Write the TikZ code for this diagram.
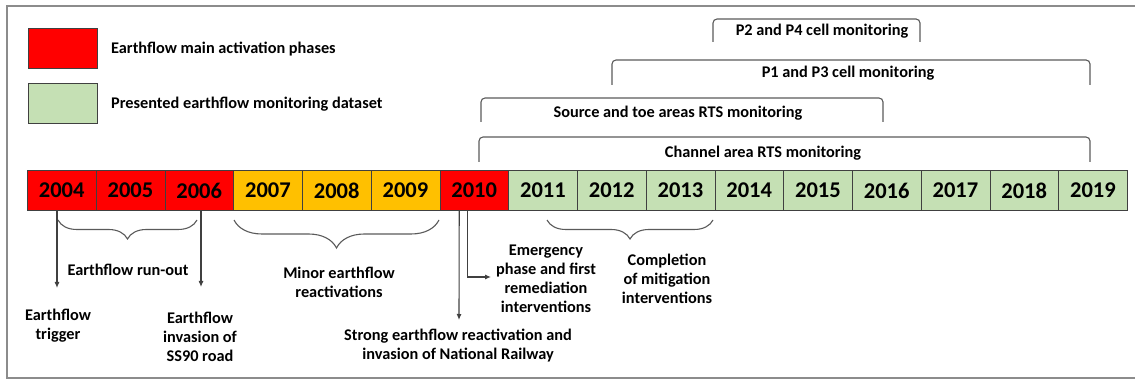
\documentclass[tikz,border=0pt]{standalone}
\usepackage{fontspec}
\setmainfont{Carlito}
\usetikzlibrary{arrows.meta,positioning,decorations.pathreplacing}
\definecolor{actred}{HTML}{FF0000}
\definecolor{minororange}{HTML}{FFC000}
\definecolor{monigreen}{HTML}{C5E0B4}
\definecolor{framegray}{HTML}{8C8C8C}
\definecolor{linegray}{HTML}{5A5A5A}
\definecolor{cellline}{HTML}{404040}

\begin{document}
\begin{tikzpicture}[x=1pt,y=-1pt,font=\bfseries\fontsize{16.3}{19}\selectfont,
  yearcell/.style={draw=cellline,line width=0.7pt,minimum width=68.75pt,minimum height=40pt,
        inner sep=0pt,anchor=west,font=\bfseries\fontsize{22.5}{24}\selectfont},
  legbox/.style={draw=cellline,line width=0.8pt,minimum width=69pt,minimum height=40pt,inner sep=0pt},
  notetext/.style={align=center,inner sep=1pt},
  bracketline/.style={linegray,line width=1.1pt,rounded corners=4pt},
  curly/.style={linegray,line width=1.1pt,decorate,decoration={brace,mirror,amplitude=#1}},
  pointer/.style={-{Latex[length=6pt,width=5pt]},cellline,line width=1.1pt}]
  \useasboundingbox (0,0) rectangle (1135,379);
  \draw[framegray,line width=1.8pt] (1140,6) -- (7,6) -- (7,378) -- (1140,378);

  % legend
  \node[legbox,fill=actred] (legred) at (62.5,48) {};
  \node[legbox,fill=monigreen] (leggreen) at (62.5,103.5) {};
  \node[anchor=west,inner sep=0pt] (legredtxt) at (111,49) {Earthflow main activation phases};
  \node[anchor=west,inner sep=0pt] (leggreentxt) at (111,104) {Presented earthflow monitoring dataset};

  % timeline
  \foreach \yr/\col [count=\i from 0] in {2004/actred,2005/actred,2006/actred,
      2007/minororange,2008/minororange,2009/minororange,2010/actred,
      2011/monigreen,2012/monigreen,2013/monigreen,2014/monigreen,2015/monigreen,
      2016/monigreen,2017/monigreen,2018/monigreen,2019/monigreen}
    \node[yearcell,fill=\col] (y\yr) at (27+68.75*\i,190.5) {\yr};

  % monitoring periods
  \coordinate (chL) at (479,162);  \coordinate (chR) at (1090,162);
  \coordinate (srcL) at (481,122); \coordinate (srcR) at (883,122);
  \coordinate (p13L) at (612,85);  \coordinate (p13R) at (1090,85);
  \coordinate (p24L) at (713,42);  \coordinate (p24R) at (920,42);
  \draw[bracketline] (chL) -- ++(0,-25) -| (chR);
  \draw[bracketline] (srcL) -- ++(0,-24) -| (srcR);
  \draw[bracketline] (p13L) -- ++(0,-25) -| (p13R);
  \draw[bracketline] (p24L) -- ++(0,-23) -| (p24R);
  \node (chtxt) at (763,153) {Channel area RTS monitoring};
  \node (srctxt) at (678,113) {Source and toe areas RTS monitoring};
  \node (p13txt) at (848,73) {P1 and P3 cell monitoring};
  \node (p24txt) at (822,31) {P2 and P4 cell monitoring};

  % events below
  \coordinate (runL) at (58,220);   \coordinate (runR) at (197,220);
  \coordinate (minL) at (234,220);  \coordinate (minR) at (439,220);
  \coordinate (cmpL) at (547,220);  \coordinate (cmpR) at (713,220);
  \draw[curly=19pt] (runL) -- (runR);
  \draw[curly=28pt] (minL) -- (minR);
  \draw[curly=19pt] (cmpL) -- (cmpR);
  \node[notetext] (runout) at (128,270) {Earthflow run-out};
  \node[notetext] (minor) at (339,282) {Minor earthflow\\reactivations};
  \node[notetext] (compl) at (667,279) {Completion\\of mitigation\\interventions};

  \coordinate (trigend) at (57,288);
  \coordinate (roadend) at (201,287);
  \coordinate (railend) at (459,320);
  \coordinate (emgend) at (491,277);
  \draw[pointer] (y2004.south -| trigend) -- (trigend);
  \draw[pointer] (y2006.south -| roadend) -- (roadend);
  \draw[pointer] ([xshift=-15pt]y2010.south) -- (railend);
  \draw[pointer] ([xshift=-7pt]y2010.south) |- (emgend);
  \node[notetext] (trig) at (58,326) {Earthflow\\trigger};
  \node[notetext] (road) at (200,337) {Earthflow\\invasion of\\SS90 road};
  \node[notetext] (rail) at (458,346) {Strong earthflow reactivation and\\invasion of National Railway};
  \node[notetext] (emg) at (546,279) {Emergency\\phase and first\\remediation\\interventions};
\end{tikzpicture}
\end{document}
